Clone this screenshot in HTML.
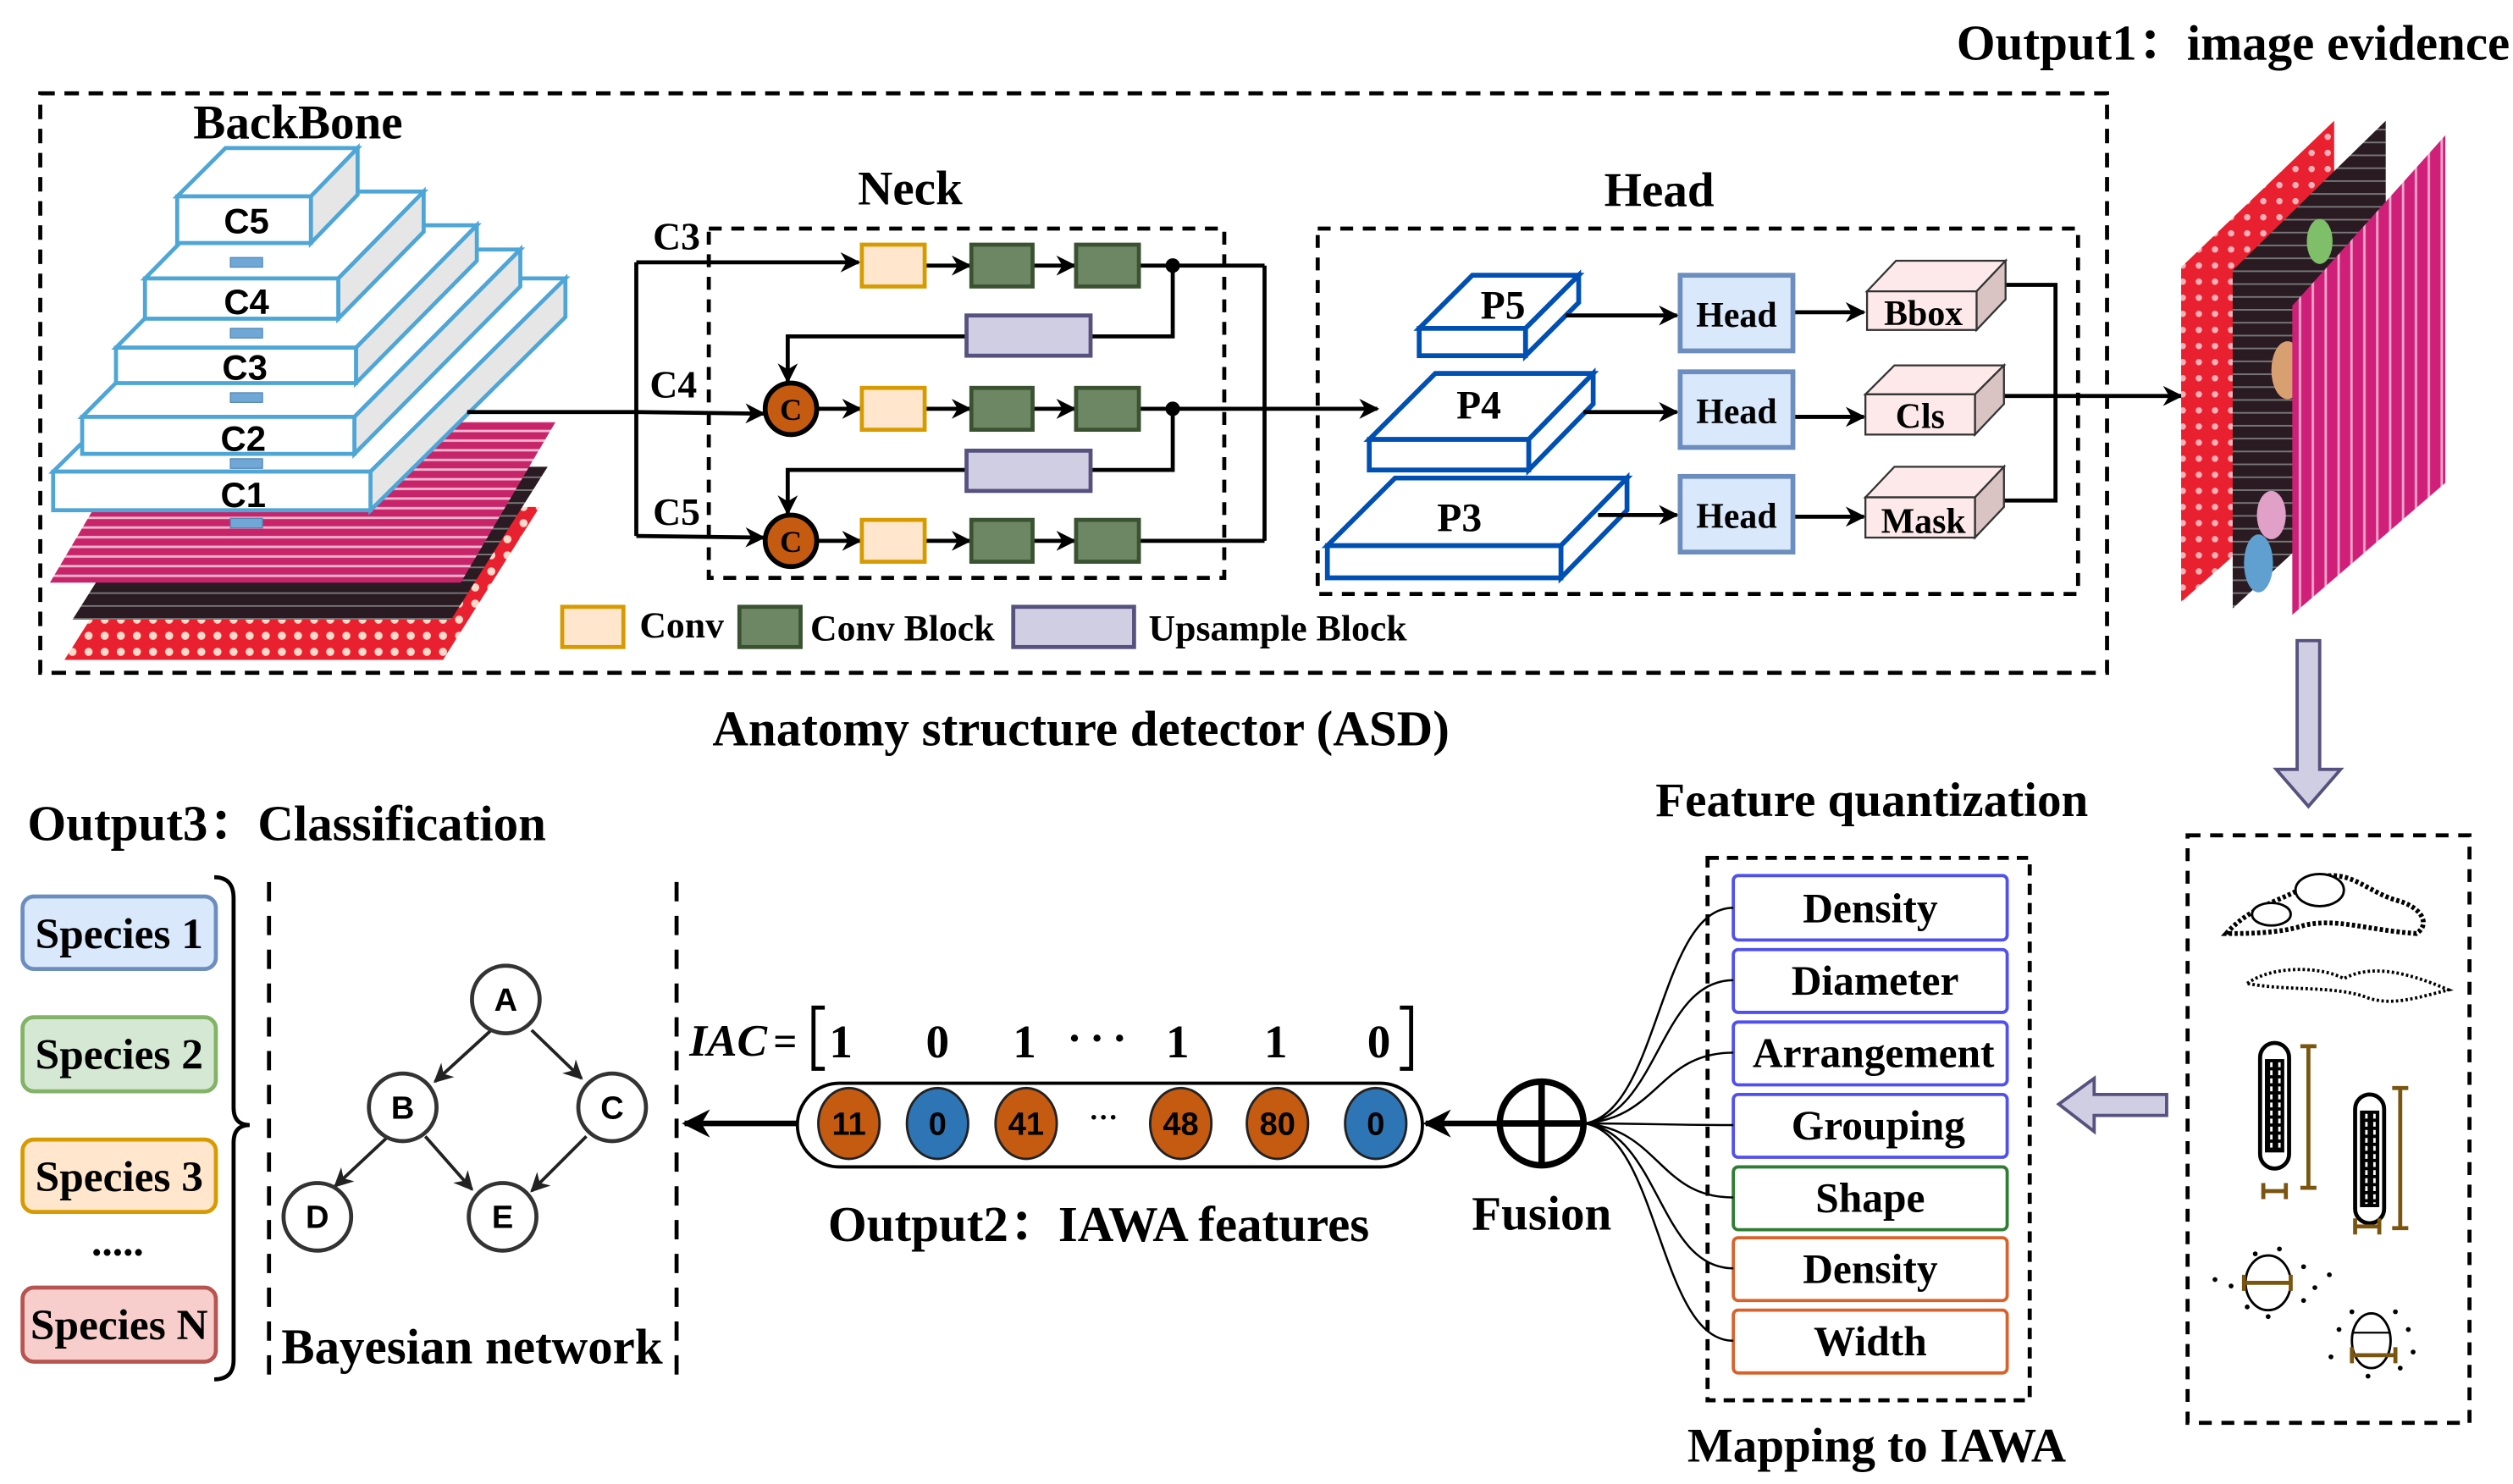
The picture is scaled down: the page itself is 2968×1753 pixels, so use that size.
<!DOCTYPE html>
<html><head><meta charset="utf-8"><style>
html,body{margin:0;padding:0;background:#fff}
svg{display:block}
text{font-family:"Liberation Serif","Noto Serif CJK SC",serif;font-weight:bold;fill:#000}
.s{font-family:"Liberation Sans",sans-serif;font-weight:bold}
</style></head><body>
<svg width="2968" height="1753" viewBox="0 0 1560 922" preserveAspectRatio="none" xmlns="http://www.w3.org/2000/svg">
<defs>
<marker id="ar" viewBox="0 0 10 10" refX="9" refY="5" markerWidth="5" markerHeight="5" orient="auto"><path d="M0,0 L10,5 L0,10 L3,5z" fill="#000"/></marker>
<marker id="ar2" viewBox="0 0 10 10" refX="9" refY="5" markerWidth="6" markerHeight="6" orient="auto"><path d="M0,0 L10,5 L0,10 L3,5z" fill="#222"/></marker>
<pattern id="pk" width="12" height="6" patternUnits="userSpaceOnUse"><rect width="12" height="6" fill="#c8246a"/><rect y="3" width="12" height="1.5" fill="#f3b7d0"/></pattern>
<pattern id="dk" width="8" height="8" patternUnits="userSpaceOnUse"><rect width="8" height="8" fill="#2a1a22"/><rect width="8" height="1" fill="#777"/></pattern>
<pattern id="rd" width="10" height="10" patternUnits="userSpaceOnUse"><rect width="10" height="10" fill="#e8202f"/><circle cx="5" cy="5" r="2.5" fill="#ffd9c9"/></pattern>
<pattern id="rd2" width="10" height="10" patternUnits="userSpaceOnUse"><rect width="10" height="10" fill="#e8202f"/><circle cx="5" cy="5" r="2" fill="#f7b0b8"/></pattern>
<pattern id="pk2" width="8" height="14" patternUnits="userSpaceOnUse"><rect width="8" height="14" fill="#cf1f78"/><rect x="3" width="1.5" height="14" fill="#f2a7cc"/></pattern>
</defs>

<text x="1558" y="37" font-size="31" text-anchor="end">Output1：image evidence</text>

<rect x="25" y="58" width="1283" height="360" fill="none" stroke="#000" stroke-width="2.5" stroke-dasharray="9,6"/>
<text x="185" y="86" font-size="30" text-anchor="middle">BackBone</text>

<polygon points="40,410 100,315 335,315 275,410" fill="url(#rd)"/>
<polygon points="45,385 105,290 340,290 280,385" fill="url(#dk)"/>
<polygon points="31,362 90,262 345,262 286,362" fill="url(#pk)"/>

<g stroke="#4ea6d6" stroke-width="2.5">
<polygon points="33,293 154,173 351,173 230,293" fill="#fff"/>
<polygon points="230,293 351,173 351,197 230,317" fill="#e6e6e6"/>
<rect x="33" y="293" width="197" height="24" fill="#fff"/>
<polygon points="51,259 154,155 323,155 220,259" fill="#fff"/>
<polygon points="220,259 323,155 323,178 220,282" fill="#e6e6e6"/>
<rect x="51" y="259" width="169" height="23" fill="#fff"/>
<polygon points="72,216 147,140 296,140 221,216" fill="#fff"/>
<polygon points="221,216 296,140 296,162 221,238" fill="#e6e6e6"/>
<rect x="72" y="216" width="149" height="22" fill="#fff"/>
<polygon points="90,173 143,119 263,119 210,173" fill="#fff"/>
<polygon points="210,173 263,119 263,144 210,198" fill="#e6e6e6"/>
<rect x="90" y="173" width="120" height="25" fill="#fff"/>
<polygon points="110,122 140,92 222,92 193,122" fill="#fff"/>
<polygon points="193,122 222,92 222,121 193,151" fill="#e6e6e6"/>
<rect x="110" y="122" width="83" height="29" fill="#fff"/>
</g>
<g fill="#6fa8d6" stroke="#4a7fb0" stroke-width="0.6">
<rect x="143" y="160" width="20" height="6"/><rect x="143" y="204" width="20" height="6"/><rect x="143" y="244" width="20" height="6"/><rect x="143" y="285" width="20" height="6"/><rect x="143" y="322" width="20" height="6"/>
</g>
<g font-size="22" text-anchor="middle">
<text class="s" x="153" y="145">C5</text><text class="s" x="153" y="195">C4</text><text class="s" x="152" y="236">C3</text><text class="s" x="151" y="280">C2</text><text class="s" x="151" y="315">C1</text>
</g>

<text x="565" y="127" font-size="30" text-anchor="middle">Neck</text>
<rect x="440" y="142" width="320" height="217" fill="none" stroke="#000" stroke-width="2.5" stroke-dasharray="8,6"/>
<text x="420" y="155" font-size="24" text-anchor="middle">C3</text>
<text x="418" y="247" font-size="24" text-anchor="middle">C4</text>
<text x="420" y="326" font-size="24" text-anchor="middle">C5</text>

<g stroke="#000" stroke-width="2.5" fill="none">
<polyline points="290,256 395,256 474,257" marker-end="url(#ar)"/>
<line x1="395" y1="163" x2="395" y2="333"/>
<polyline points="395,163 533,163" marker-end="url(#ar)"/>
<polyline points="395,333 474,334" marker-end="url(#ar)"/>
<line x1="574" y1="165" x2="602" y2="165" marker-end="url(#ar)"/>
<line x1="641" y1="165" x2="667" y2="165" marker-end="url(#ar)"/>
<line x1="707" y1="165" x2="785" y2="165"/>
<line x1="785" y1="165" x2="785" y2="336"/>
<polyline points="728,165 728,209 677,209"/>
<polyline points="600,209 489,209 489,237" marker-end="url(#ar)"/>
<line x1="507" y1="254" x2="534" y2="254" marker-end="url(#ar)"/>
<line x1="574" y1="254" x2="602" y2="254" marker-end="url(#ar)"/>
<line x1="641" y1="254" x2="667" y2="254" marker-end="url(#ar)"/>
<line x1="707" y1="254" x2="855" y2="254" marker-end="url(#ar)"/>
<polyline points="728,254 728,292 677,292"/>
<polyline points="600,292 489,292 489,319" marker-end="url(#ar)"/>
<line x1="507" y1="336" x2="534" y2="336" marker-end="url(#ar)"/>
<line x1="574" y1="336" x2="602" y2="336" marker-end="url(#ar)"/>
<line x1="641" y1="336" x2="667" y2="336" marker-end="url(#ar)"/>
<line x1="707" y1="336" x2="785" y2="336"/>
</g>
<circle cx="728" cy="165" r="4.5"/><circle cx="728" cy="254" r="4.5"/>
<g stroke-width="2.5">
<rect x="535" y="152" width="39" height="26" fill="#ffe6cc" stroke="#d79b00"/>
<rect x="535" y="241" width="39" height="26" fill="#ffe6cc" stroke="#d79b00"/>
<rect x="535" y="323" width="39" height="26" fill="#ffe6cc" stroke="#d79b00"/>
<g fill="#6d8764" stroke="#3a5231">
<rect x="603" y="152" width="38" height="26"/><rect x="668" y="152" width="39" height="26"/>
<rect x="603" y="241" width="38" height="26"/><rect x="668" y="241" width="39" height="26"/>
<rect x="603" y="323" width="38" height="26"/><rect x="668" y="323" width="39" height="26"/>
</g>
<rect x="600" y="196" width="77" height="25" fill="#d0cee2" stroke="#56517e"/>
<rect x="600" y="280" width="77" height="25" fill="#d0cee2" stroke="#56517e"/>
<circle cx="491" cy="254" r="16" fill="#c55a11" stroke="#000" stroke-width="3"/>
<circle cx="491" cy="336" r="16" fill="#c55a11" stroke="#000" stroke-width="3"/>
</g>
<text x="491" y="261" font-size="19" text-anchor="middle" font-weight="normal">C</text>
<text x="491" y="343" font-size="19" text-anchor="middle" font-weight="normal">C</text>

<rect x="349" y="377" width="38" height="25" fill="#ffe6cc" stroke="#d79b00" stroke-width="2.5"/>
<text x="397" y="396" font-size="23">Conv</text>
<rect x="459" y="377" width="38" height="25" fill="#6d8764" stroke="#3a5231" stroke-width="2.5"/>
<text x="503" y="398" font-size="23">Conv Block</text>
<rect x="629" y="377" width="75" height="25" fill="#d0cee2" stroke="#56517e" stroke-width="2.5"/>
<text x="713" y="398" font-size="23">Upsample Block</text>

<text x="671" y="463" font-size="31" text-anchor="middle">Anatomy structure detector (ASD)</text>

<text x="1030" y="128" font-size="30" text-anchor="middle">Head</text>
<rect x="818" y="142" width="472" height="227" fill="none" stroke="#000" stroke-width="2.5" stroke-dasharray="8,6"/>
<g stroke="#0050b4" stroke-width="3" fill="#fff">
<polygon points="881,204 914,171 980,171 947,204"/><polygon points="947,204 980,171 980,188 947,221"/><rect x="881" y="204" width="66" height="17"/>
<polygon points="850,273 891,232 989,232 949,273"/><polygon points="949,273 989,232 989,251 949,292"/><rect x="850" y="273" width="99" height="19"/>
<polygon points="824,339 866,297 1010,297 969,339"/><polygon points="969,339 1010,297 1010,317 969,359"/><rect x="824" y="339" width="145" height="20"/>
</g>
<text x="933" y="198" font-size="25" text-anchor="middle">P5</text>
<text x="918" y="260" font-size="25" text-anchor="middle">P4</text>
<text x="906" y="330" font-size="25" text-anchor="middle">P3</text>
<g stroke="#000" stroke-width="2.5">
<line x1="972" y1="196" x2="1041" y2="196" marker-end="url(#ar)"/>
<line x1="983" y1="256" x2="1041" y2="256" marker-end="url(#ar)"/>
<line x1="992" y1="320" x2="1041" y2="320" marker-end="url(#ar)"/>
<line x1="1113" y1="194" x2="1157" y2="194" marker-end="url(#ar)"/>
<line x1="1113" y1="259" x2="1157" y2="259" marker-end="url(#ar)"/>
<line x1="1113" y1="321" x2="1157" y2="321" marker-end="url(#ar)"/>
<polyline points="1244,177 1276,177 1276,311 1244,311" fill="none"/>
<line x1="1244" y1="246" x2="1354" y2="246" marker-end="url(#ar)"/>
</g>
<g fill="#dae8fc" stroke="#6c8ebf" stroke-width="3">
<rect x="1043" y="171" width="70" height="47"/><rect x="1043" y="231" width="70" height="47"/><rect x="1043" y="296" width="70" height="47"/>
</g>
<g font-size="22" text-anchor="middle"><text x="1078" y="203">Head</text><text x="1078" y="263">Head</text><text x="1078" y="328">Head</text></g>
<g stroke="#333" stroke-width="1.2">
<polygon points="1159,181 1177,162 1245,162 1227,181" fill="#fde9e9"/><polygon points="1227,181 1245,162 1245,186 1227,205" fill="#d9c3c3"/><rect x="1159" y="181" width="68" height="24" fill="#fde9e9"/>
<polygon points="1158,245 1176,227 1244,227 1226,245" fill="#fde9e9"/><polygon points="1226,245 1244,227 1244,251 1226,270" fill="#d9c3c3"/><rect x="1158" y="245" width="68" height="25" fill="#fde9e9"/>
<polygon points="1158,309 1176,290 1244,290 1226,309" fill="#fde9e9"/><polygon points="1226,309 1244,290 1244,315 1226,334" fill="#d9c3c3"/><rect x="1158" y="309" width="68" height="25" fill="#fde9e9"/>
</g>
<g font-size="22" text-anchor="middle"><text x="1194" y="202">Bbox</text><text x="1192" y="266">Cls</text><text x="1194" y="331">Mask</text></g>

<polygon points="1354,166 1449,75 1449,290 1354,374" fill="url(#rd2)"/>
<polygon points="1386,168 1481,75 1481,290 1386,378" fill="url(#dk)"/>
<ellipse cx="1420" cy="230" rx="10" ry="18" fill="#d8a070"/><ellipse cx="1410" cy="320" rx="9" ry="15" fill="#e0a0c8"/><ellipse cx="1402" cy="350" rx="9" ry="18" fill="#5fa0d0"/><ellipse cx="1440" cy="150" rx="8" ry="14" fill="#7fbf6a"/>
<polygon points="1423,190 1518,84 1518,300 1423,382" fill="url(#pk2)"/>

<polygon points="1426,398 1440,398 1440,478 1453,478 1433,501 1413,478 1426,478" fill="#d0cee2" stroke="#56517e" stroke-width="2"/>

<rect x="1358" y="519" width="175" height="365" fill="none" stroke="#000" stroke-width="2.5" stroke-dasharray="8,6"/>
<path d="M1382,580 C1400,560 1420,560 1440,545 C1460,540 1470,555 1490,560 C1505,565 1508,575 1500,580 C1470,578 1450,570 1430,575 C1415,580 1395,580 1382,580Z" fill="#fff" stroke="#000" stroke-width="3" stroke-dasharray="2,1.5"/>
<ellipse cx="1440" cy="553" rx="15" ry="10" fill="#fff" stroke="#000" stroke-width="1.5"/>
<ellipse cx="1410" cy="568" rx="12" ry="7" fill="#fff" stroke="#000" stroke-width="1.5"/>
<path d="M1395,611 C1410,600 1440,600 1455,608 C1470,600 1490,602 1520,615 C1500,620 1485,625 1470,620 C1450,612 1420,616 1395,611Z" fill="#fff" stroke="#000" stroke-width="2" stroke-dasharray="1.5,1.5"/>
<g stroke="#000" stroke-width="2.5" fill="#fff">
<rect x="1403" y="648" width="18" height="78" rx="9"/>
<rect x="1462" y="680" width="18" height="80" rx="9"/>
</g>
<g fill="#000">
<rect x="1406" y="658" width="12" height="58"/><rect x="1465" y="690" width="12" height="60"/>
</g>
<g stroke="#fff" stroke-width="1.5" stroke-dasharray="3,2"><line x1="1410" y1="660" x2="1410" y2="715"/><line x1="1415" y1="660" x2="1415" y2="715"/><line x1="1469" y1="692" x2="1469" y2="748"/><line x1="1474" y1="692" x2="1474" y2="748"/></g>
<g stroke="#7a5510" stroke-width="2.5" fill="none">
<path d="M1428,650 h10 M1433,650 V738 M1428,738 h10"/>
<path d="M1405,735 V745 M1405,740 H1419 M1419,735 V745"/>
<path d="M1485,676 h10 M1490,676 V763 M1485,763 h10"/>
<path d="M1462,757 V767 M1462,762 H1477 M1477,757 V767"/>
</g>
<ellipse cx="1408" cy="797" rx="14" ry="17" fill="none" stroke="#000" stroke-width="1.5"/>
<path d="M1393,792 V802 M1393,797 H1422 M1422,792 V802" stroke="#7a5510" stroke-width="2.5"/>
<g fill="#000"><circle cx="1375" cy="795" r="1.5"/><circle cx="1385" cy="799" r="1.5"/><circle cx="1430" cy="787" r="1.5"/><circle cx="1437" cy="800" r="1.5"/><circle cx="1400" cy="779" r="1.5"/><circle cx="1415" cy="776" r="1.5"/><circle cx="1430" cy="808" r="1.5"/><circle cx="1395" cy="812" r="1.5"/><circle cx="1446" cy="792" r="1.5"/><circle cx="1408" cy="818" r="1.5"/></g>
<ellipse cx="1472" cy="833" rx="12" ry="17" fill="none" stroke="#000" stroke-width="1.5"/>
<line x1="1460" y1="828" x2="1484" y2="828" stroke="#000" stroke-width="1.2"/>
<path d="M1460,837 V847 M1460,842 H1487 M1487,837 V847" stroke="#7a5510" stroke-width="2.5"/>
<g fill="#000"><circle cx="1452" cy="826" r="1.5"/><circle cx="1447" cy="843" r="1.5"/><circle cx="1495" cy="826" r="1.5"/><circle cx="1498" cy="840" r="1.5"/><circle cx="1460" cy="815" r="1.5"/><circle cx="1487" cy="815" r="1.5"/><circle cx="1470" cy="855" r="1.5"/><circle cx="1490" cy="850" r="1.5"/></g>

<polygon points="1345,680 1300,680 1300,670 1278,686 1300,703 1300,693 1345,693" fill="#d0cee2" stroke="#56517e" stroke-width="2"/>

<text x="1162" y="507" font-size="30" text-anchor="middle">Feature quantization</text>
<rect x="1060" y="533" width="200" height="337" fill="none" stroke="#000" stroke-width="2.5" stroke-dasharray="7,5"/>
<g stroke-width="2" fill="#fff">
<rect x="1076" y="544" width="170" height="40" rx="3" stroke="#5050f0"/>
<rect x="1076" y="590" width="170" height="39" rx="3" stroke="#5050f0"/>
<rect x="1076" y="635" width="170" height="39" rx="3" stroke="#5050f0"/>
<rect x="1076" y="680" width="170" height="39" rx="3" stroke="#5050f0"/>
<rect x="1076" y="725" width="170" height="39" rx="3" stroke="#2e7d32"/>
<rect x="1076" y="769" width="170" height="39" rx="3" stroke="#d9622b"/>
<rect x="1076" y="814" width="170" height="39" rx="3" stroke="#d9622b"/>
</g>
<g font-size="26" text-anchor="middle">
<text x="1161" y="573">Density</text><text x="1164" y="618">Diameter</text><text x="1163" y="663">Arrangement</text><text x="1166" y="708">Grouping</text><text x="1161" y="753">Shape</text><text x="1161" y="797">Density</text><text x="1161" y="842">Width</text>
</g>
<text x="1165" y="908" font-size="30" text-anchor="middle">Mapping to IAWA</text>
<g stroke="#000" stroke-width="1.3" fill="none">
<path d="M984,698 C1030,690 1030,564 1076,564"/>
<path d="M984,698 C1030,692 1030,609 1076,609"/>
<path d="M984,698 C1030,694 1030,654 1076,654"/>
<path d="M984,698 C1030,698 1030,699 1076,699"/>
<path d="M984,698 C1030,702 1030,744 1076,744"/>
<path d="M984,698 C1030,704 1030,788 1076,788"/>
<path d="M984,698 C1030,706 1030,833 1076,833"/>
</g>
<circle cx="957" cy="698" r="26" fill="#fff" stroke="#000" stroke-width="4"/>
<line x1="931" y1="698" x2="983" y2="698" stroke="#000" stroke-width="4"/>
<line x1="957" y1="672" x2="957" y2="724" stroke="#000" stroke-width="4"/>
<text x="957" y="764" font-size="30" text-anchor="middle">Fusion</text>
<line x1="930" y1="698" x2="885" y2="698" stroke="#000" stroke-width="3.5" marker-end="url(#ar)"/>

<rect x="495" y="673" width="388" height="52" rx="26" fill="#fff" stroke="#000" stroke-width="2"/>
<g stroke="#222" stroke-width="1.5">
<ellipse cx="527" cy="698" rx="19" ry="22" fill="#c55a11"/><ellipse cx="582" cy="698" rx="19" ry="22" fill="#2e75b6"/><ellipse cx="637" cy="698" rx="19" ry="22" fill="#c55a11"/>
<ellipse cx="733" cy="698" rx="19" ry="22" fill="#c55a11"/><ellipse cx="793" cy="698" rx="19" ry="22" fill="#c55a11"/><ellipse cx="854" cy="698" rx="19" ry="22" fill="#2e75b6"/>
</g>
<g font-size="20" text-anchor="middle">
<text class="s" x="527" y="705">11</text><text class="s" x="582" y="705">0</text><text class="s" x="637" y="705">41</text><text class="s" x="733" y="705">48</text><text class="s" x="793" y="705">80</text><text class="s" x="854" y="705">0</text>
</g>
<text x="685" y="700" font-size="18" text-anchor="middle" font-weight="normal">···</text>
<text x="682" y="771" font-size="31" text-anchor="middle">Output2：IAWA features</text>
<text x="428" y="656" font-size="28" font-style="italic" font-weight="normal">IAC</text>
<text x="480" y="656" font-size="26" font-weight="normal">=</text>
<path d="M512,626 H505 V664 H512" fill="none" stroke="#000" stroke-width="2.5"/>
<path d="M869,626 H876 V664 H869" fill="none" stroke="#000" stroke-width="2.5"/>
<g font-size="29" text-anchor="middle">
<text x="522" y="657" font-weight="normal">1</text><text x="582" y="657" font-weight="normal">0</text><text x="636" y="657" font-weight="normal">1</text><text x="731" y="657" font-weight="normal">1</text><text x="792" y="657" font-weight="normal">1</text><text x="856" y="657" font-weight="normal">0</text>
</g>
<g fill="#000"><circle cx="667" cy="645" r="2.2"/><circle cx="681" cy="645" r="2.2"/><circle cx="695" cy="645" r="2.2"/></g>
<line x1="495" y1="698" x2="425" y2="698" stroke="#000" stroke-width="3.5" marker-end="url(#ar)"/>

<line x1="167" y1="548" x2="167" y2="858" stroke="#000" stroke-width="2.5" stroke-dasharray="12,9"/>
<line x1="420" y1="548" x2="420" y2="858" stroke="#000" stroke-width="2.5" stroke-dasharray="12,9"/>
<g stroke="#222" stroke-width="2" marker-end="url(#ar2)">
<line x1="305" y1="640" x2="270" y2="672"/>
<line x1="330" y1="640" x2="361" y2="670"/>
<line x1="240" y1="707" x2="208" y2="737"/>
<line x1="264" y1="706" x2="293" y2="739"/>
<line x1="364" y1="706" x2="330" y2="740"/>
</g>
<g fill="#fff" stroke="#333" stroke-width="2.5">
<circle cx="314" cy="621" r="21"/><circle cx="250" cy="688" r="21"/><circle cx="380" cy="688" r="21"/><circle cx="197" cy="756" r="21"/><circle cx="312" cy="756" r="21"/>
</g>
<g font-size="20" text-anchor="middle">
<text class="s" x="314" y="628">A</text><text class="s" x="250" y="695">B</text><text class="s" x="380" y="695">C</text><text class="s" x="197" y="763">D</text><text class="s" x="312" y="763">E</text>
</g>
<text x="293" y="847" font-size="31" text-anchor="middle">Bayesian network</text>

<text x="17" y="522" font-size="31">Output3：Classification</text>
<g stroke-width="2.5">
<rect x="14" y="557" width="120" height="45" rx="7" fill="#dae8fc" stroke="#6c8ebf"/>
<rect x="14" y="632" width="120" height="46" rx="7" fill="#d5e8d4" stroke="#82b366"/>
<rect x="14" y="708" width="120" height="45" rx="7" fill="#ffe6cc" stroke="#d79b00"/>
<rect x="14" y="800" width="120" height="46" rx="7" fill="#f8cecc" stroke="#b85450"/>
</g>
<g font-size="27" text-anchor="middle">
<text x="74" y="589">Species 1</text><text x="74" y="664">Species 2</text><text x="74" y="740">Species 3</text><text x="74" y="832">Species N</text>
</g>
<text x="73" y="780" font-size="26" text-anchor="middle">.....</text>
<path d="M133,545 Q145,545 145,558 V688 Q145,699 155,699 Q145,699 145,710 V845 Q145,857 133,857" fill="none" stroke="#000" stroke-width="2.5"/>
</svg>
</body></html>
